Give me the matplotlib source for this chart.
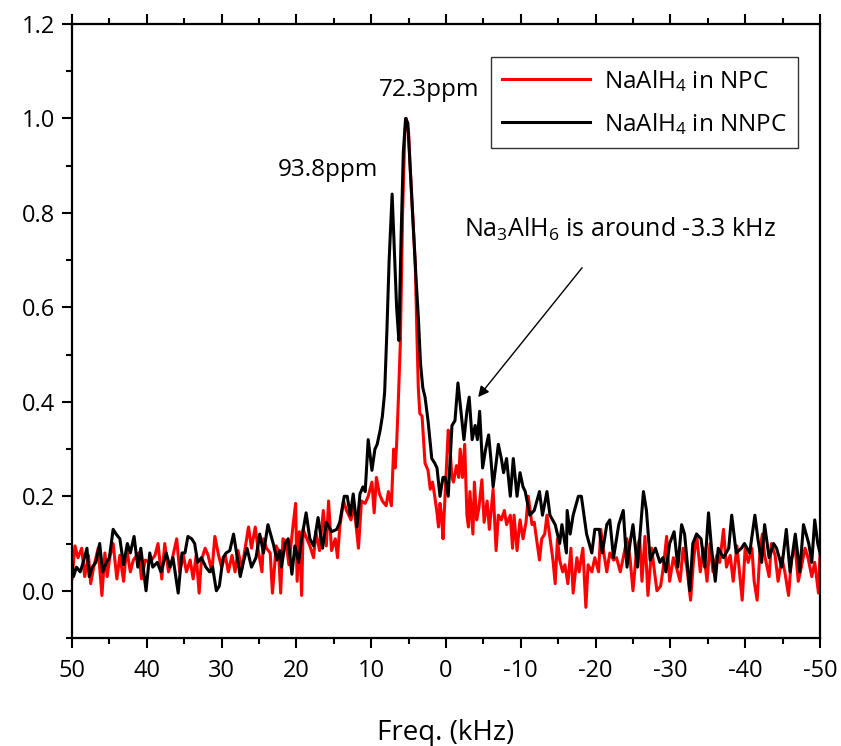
import matplotlib
matplotlib.use("Agg")
import matplotlib.pyplot as plt
from matplotlib.ticker import MultipleLocator

plt.rcParams['font.family'] = ['Open Sans', 'DejaVu Sans']
plt.rcParams['mathtext.fontset'] = 'custom'
plt.rcParams['mathtext.rm'] = 'Open Sans'
plt.rcParams['mathtext.it'] = 'Open Sans'
plt.rcParams['axes.unicode_minus'] = False

# NaAlH4 in NPC (red)
freq_npc = [50.0, 49.6, 49.2, 48.7, 48.3, 47.8, 47.5, 47.1, 46.5, 46.0, 45.6, 45.3, 44.9, 44.5,
            44.0, 43.6, 43.1, 42.7, 42.2, 41.8, 41.1, 40.7, 40.2, 39.6, 38.9, 38.5, 38.0, 37.6,
            37.1, 36.7, 36.0, 35.6, 35.1, 34.7, 34.2, 33.8, 33.4, 33.0, 32.7, 32.2, 31.8, 31.3,
            30.9, 30.4, 30.0, 29.5, 29.1, 28.6, 28.2, 27.8, 27.3, 26.9, 26.4, 26.0, 25.5, 25.1,
            24.6, 24.4, 24.0, 23.5, 23.2, 22.7, 22.4, 22.1, 21.8, 21.4, 21.0, 20.4, 20.1, 19.9,
            19.6, 19.3, 19.1, 18.6, 18.2, 17.7, 17.4, 16.9, 16.4, 16.0, 15.7, 15.3, 14.8, 14.5,
            14.2, 13.7, 13.3, 12.7, 12.3, 11.7, 11.3, 10.8, 10.4, 9.9, 9.6, 9.3, 8.9, 8.5, 8.0,
            7.7, 7.3, 7.0, 6.8, 6.6, 6.4, 6.1, 5.8, 5.5, 5.3, 5.0, 4.8, 4.4, 4.1, 3.9, 3.7, 3.5,
            3.2, 3.0, 2.8, 2.4, 2.1, 1.8, 1.5, 1.2, 1.0, 0.8, 0.6, 0.4, 0.1, -0.1, -0.3, -0.5,
            -0.8, -1.0, -1.4, -1.7, -1.9, -2.2, -2.5, -2.8, -3.0, -3.2, -3.6, -3.8, -4.1, -4.4,
            -4.8, -5.1, -5.5, -5.8, -6.3, -6.7, -7.0, -7.4, -7.8, -8.1, -8.6, -8.9, -9.1, -9.5,
            -9.9, -10.3, -10.7, -11.0, -11.5, -11.8, -12.1, -12.5, -12.8, -13.2, -13.5, -14.0,
            -14.3, -14.6, -14.9, -15.2, -15.6, -15.9, -16.3, -16.7, -17.0, -17.5, -17.8, -18.3,
            -18.7, -19.0, -19.5, -19.9, -20.4, -20.7, -21.0, -21.5, -21.9, -22.4, -22.8, -23.3,
            -23.7, -24.2, -24.6, -25.0, -25.5, -25.9, -26.2, -26.6, -27.0, -27.5, -27.8, -28.2,
            -28.7, -29.1, -29.5, -29.9, -30.4, -30.8, -31.3, -31.7, -32.2, -32.7, -33.1, -33.5,
            -34.0, -34.4, -34.9, -35.3, -35.7, -36.2, -36.6, -37.1, -37.5, -38.0, -38.4, -38.9,
            -39.6, -40.0, -40.4, -40.9, -41.2, -41.6, -42.0, -42.3, -42.6, -43.2, -43.5, -44.0,
            -44.4, -44.9, -45.3, -45.8, -46.2, -46.7, -47.1, -47.5, -48.0, -48.4, -48.9, -49.3,
            -49.8, -50.0]
int_npc = [0.025, 0.095, 0.07, 0.09, 0.03, 0.075, 0.015, 0.05, 0.09, -0.01, 0.08, 0.03, 0.075, 0.10,
           0.025, 0.075, 0.02, 0.09, 0.04, 0.065, 0.08, 0.025, 0.065, 0.06, 0.075, 0.10, 0.025, 0.10,
           0.04, 0.06, 0.11, 0.04, 0.075, 0.04, 0.065, 0.025, 0.075, -0.005, 0.065, 0.09, 0.075, 0.04,
           0.115, 0.075, 0.05, 0.075, 0.04, 0.075, 0.04, 0.085, 0.045, 0.085, 0.135, 0.09, 0.135, 0.085,
           0.04, 0.11, 0.09, 0.08, -0.005, 0.095, 0.085, -0.005, 0.11, 0.105, 0.055, 0.145, 0.185, 0.02,
           0.125, -0.01, 0.13, 0.11, 0.095, 0.07, 0.125, 0.085, 0.17, 0.095, 0.19, 0.085, 0.11, 0.07,
           0.135, 0.19, 0.17, 0.15, 0.18, 0.09, 0.19, 0.185, 0.20, 0.23, 0.165, 0.24, 0.205, 0.19, 0.18,
           0.21, 0.18, 0.30, 0.26, 0.31, 0.39, 0.525, 0.80, 0.97, 1.00, 0.97, 0.90, 0.78, 0.69, 0.55, 0.43, 0.375,
           0.37, 0.32, 0.27, 0.255, 0.215, 0.23, 0.20, 0.165, 0.135, 0.185, 0.16, 0.11, 0.21, 0.28, 0.34, 0.31,
           0.24, 0.23, 0.265, 0.24, 0.30, 0.24, 0.31, 0.16, 0.135, 0.21, 0.12, 0.23, 0.15, 0.175,
           0.235, 0.145, 0.19, 0.13, 0.215, 0.085, 0.16, 0.15, 0.17, 0.14, 0.16, 0.09, 0.16, 0.085,
           0.15, 0.11, 0.145, 0.20, 0.14, 0.145, 0.11, 0.065, 0.11, 0.12, 0.16, 0.10,
           0.065, 0.015, 0.11, 0.065, 0.04, 0.055, 0.015, 0.09, -0.005, 0.07, 0.04, 0.09,
           -0.035, 0.055, 0.04, 0.07, 0.04, 0.13, 0.09, 0.04, 0.08, 0.065, 0.07, 0.04,
           0.07, 0.11, 0.07, 0.0, 0.09, 0.11, 0.02, 0.115, -0.01, 0.09, 0.05, 0.0,
           0.01, 0.055, 0.115, 0.02, 0.07, 0.05, 0.02, 0.09, 0.05, -0.02, 0.065, 0.12,
           0.04, 0.09, 0.02, 0.10, 0.04, 0.075, 0.06, 0.13, 0.05, 0.075, 0.02, 0.095,
           -0.02, 0.09, 0.06, 0.09, 0.02, -0.02, 0.09, 0.12, 0.075, 0.03, 0.10, 0.075,
           0.02, 0.07, 0.04, -0.01, 0.07, 0.09, 0.02, 0.05, 0.09, 0.07, 0.03, 0.06,
           -0.005, 0.075]

# NaAlH4 in NNPC (black)
freq_nnpc = [50.0, 49.8, 49.4, 48.9, 48.5, 48.0, 47.7, 47.3, 46.8, 46.3, 45.9, 45.4, 45.0, 44.5,
             44.1, 43.6, 43.1, 42.6, 42.2, 41.7, 41.2, 40.8, 40.1, 39.6, 39.2, 38.6, 38.1, 37.4,
             36.9, 36.5, 35.8, 35.3, 34.9, 34.5, 34.0, 33.6, 33.2, 32.7, 32.1, 31.6, 31.2, 30.7,
             30.3, 29.8, 29.4, 28.9, 28.4, 28.0, 27.5, 27.1, 26.6, 26.0, 25.4, 24.9, 24.4, 23.8,
             23.1, 22.6, 22.2, 22.0, 21.5, 21.1, 20.6, 20.2, 19.7, 19.3, 18.7, 18.2, 17.7, 17.1,
             16.5, 16.0, 15.3, 14.6, 14.2, 13.6, 13.2, 12.8, 12.4, 11.9, 11.5, 11.1, 10.8, 10.4,
             9.9, 9.5, 9.2, 8.8, 8.5, 8.2, 7.9, 7.6, 7.2, 6.9, 6.6, 6.3, 6.0, 5.7, 5.4, 5.1, 4.8,
             4.4, 4.0, 3.7, 3.4, 3.1, 2.8, 2.4, 1.9, 1.5, 1.2, 0.8, 0.4, 0.1, -0.3, -0.8, -1.2,
             -1.6, -2.0, -2.4, -2.8, -3.1, -3.5, -3.9, -4.2, -4.5, -4.9, -5.3, -5.7, -6.0, -6.3,
             -6.7, -7.0, -7.4, -7.7, -8.1, -8.6, -9.0, -9.5, -9.9, -10.3, -10.6, -11.2, -11.8,
             -12.5, -12.9, -13.5, -13.9, -14.6, -15.2, -15.5, -16.1, -16.2, -16.6, -17.0, -17.7,
             -18.1, -18.8, -19.5, -19.9, -20.5, -20.9, -21.5, -21.9, -22.4, -23.1, -23.7, -24.2,
             -24.6, -25.0, -25.6, -26.4, -26.8, -27.3, -28.0, -28.6, -29.0, -29.4, -29.9, -30.5,
             -31.0, -31.5, -31.9, -32.6, -33.0, -33.5, -34.1, -34.6, -35.1, -35.5, -36.0, -36.4,
             -37.1, -37.8, -38.2, -38.8, -39.5, -39.9, -40.6, -41.3, -41.7, -42.2, -42.6, -43.2,
             -43.8, -44.2, -44.9, -45.5, -46.0, -46.7, -47.3, -47.8, -48.5, -48.9, -49.3, -49.7,
             -50.0]
int_nnpc = [0.06, 0.03, 0.05, 0.04, 0.06, 0.09, 0.03, 0.05, 0.06, 0.10, 0.04, 0.06, 0.07, 0.13,
            0.12, 0.11, 0.055, 0.10, 0.08, 0.115, 0.05, 0.09, 0.00, 0.08, 0.05, 0.06, 0.04, 0.08,
            0.05, 0.07, -0.005, 0.08, 0.08, 0.115, 0.11, 0.10, 0.06, 0.07, 0.05, 0.04, 0.05, 0.00,
            0.01, 0.07, 0.08, 0.085, 0.12, 0.08, 0.03, 0.06, 0.09, 0.05, 0.07, 0.12, 0.08, 0.14,
            0.10, 0.065, 0.085, 0.05, 0.10, 0.11, 0.035, 0.095, 0.06, 0.11, 0.165, 0.11, 0.095, 0.155,
            0.09, 0.145, 0.125, 0.13, 0.145, 0.20, 0.20, 0.16, 0.205, 0.135, 0.205, 0.22, 0.21, 0.32,
            0.255, 0.30, 0.31, 0.34, 0.37, 0.42, 0.55, 0.70, 0.84, 0.72, 0.60, 0.53, 0.75, 0.93, 1.00, 0.99, 0.90,
            0.78, 0.66, 0.58, 0.48, 0.43, 0.41, 0.36, 0.28, 0.27, 0.26, 0.20, 0.24, 0.24, 0.20, 0.35, 0.36,
            0.44, 0.38, 0.32, 0.38, 0.41, 0.32, 0.35, 0.32, 0.38, 0.26, 0.30, 0.33, 0.28, 0.22,
            0.27, 0.31, 0.28, 0.25, 0.28, 0.20, 0.28, 0.20, 0.25, 0.22, 0.21, 0.16, 0.17,
            0.21, 0.16, 0.21, 0.16, 0.14, 0.10, 0.14, 0.08, 0.17, 0.12, 0.16, 0.20,
            0.20, 0.12, 0.08, 0.13, 0.13, 0.08, 0.14, 0.15, 0.07, 0.14, 0.17, 0.05,
            0.10, 0.14, 0.05, 0.21, 0.17, 0.065, 0.09, 0.06, 0.07, 0.04, 0.10, 0.125,
            0.05, 0.14, 0.12, 0.00, 0.10, 0.12, 0.11, 0.05, 0.165, 0.09, 0.02, 0.09,
            0.07, 0.09, 0.16, 0.08, 0.09, 0.10, 0.08, 0.16, 0.11, 0.06, 0.14, 0.07,
            0.10, 0.09, 0.05, 0.13, 0.04, 0.12, 0.04, 0.14, 0.10, 0.06, 0.15, 0.10,
            0.08]

fig = plt.figure(figsize=(8.41, 7.46), dpi=100)
ax = fig.add_axes([0.0856, 0.1448, 0.8894, 0.823])

ax.plot(freq_npc, int_npc, color='#ff0000', lw=2.2, label=r'NaAlH$_4$ in NPC', zorder=2)
ax.plot(freq_nnpc, int_nnpc, color='black', lw=2.2, label=r'NaAlH$_4$ in NNPC', zorder=3)

ax.set_xlim(50, -50)
ax.set_ylim(-0.1, 1.2)
ax.xaxis.set_major_locator(MultipleLocator(10))
ax.xaxis.set_minor_locator(MultipleLocator(5))
ax.yaxis.set_minor_locator(MultipleLocator(0.1))
ax.set_yticks([0.0, 0.2, 0.4, 0.6, 0.8, 1.0, 1.2])
ax.set_yticklabels(['0.0', '0.2', '0.4', '0.6', '0.8', '1.0', '1.2'])

ax.tick_params(which='both', direction='out', top=True, right=False, width=1.5, labelsize=17)
ax.tick_params(which='major', length=7)
ax.tick_params(which='minor', length=4)
ax.tick_params(axis='x', pad=8)
ax.tick_params(axis='y', pad=5)
for s in ax.spines.values():
    s.set_linewidth(1.6)

ax.set_xlabel('Freq. (kHz)', fontsize=20, labelpad=26)

ax.text(2.3, 1.06, '72.3ppm', fontsize=17.5, ha='center', va='center')
ax.text(15.8, 0.89, '93.8ppm', fontsize=17.5, ha='center', va='center')
ax.text(-23.3, 0.765, r'Na$_3$AlH$_6$ is around -3.3 kHz', fontsize=18, ha='center', va='center')
ax.annotate('', xy=(-4.3, 0.41), xytext=(-18.2, 0.684),
            arrowprops=dict(arrowstyle='-|>', color='black', lw=1.0, mutation_scale=16,
                            shrinkA=0, shrinkB=0))

leg = ax.legend(loc='upper right', bbox_to_anchor=(0.987, 0.966), fontsize=17.5, frameon=True,
                fancybox=False, edgecolor='black', handlelength=3.6, borderpad=0.45,
                labelspacing=0.7, handletextpad=0.6)
leg.get_frame().set_linewidth(1.0)

fig.savefig('out.png', dpi=100)
